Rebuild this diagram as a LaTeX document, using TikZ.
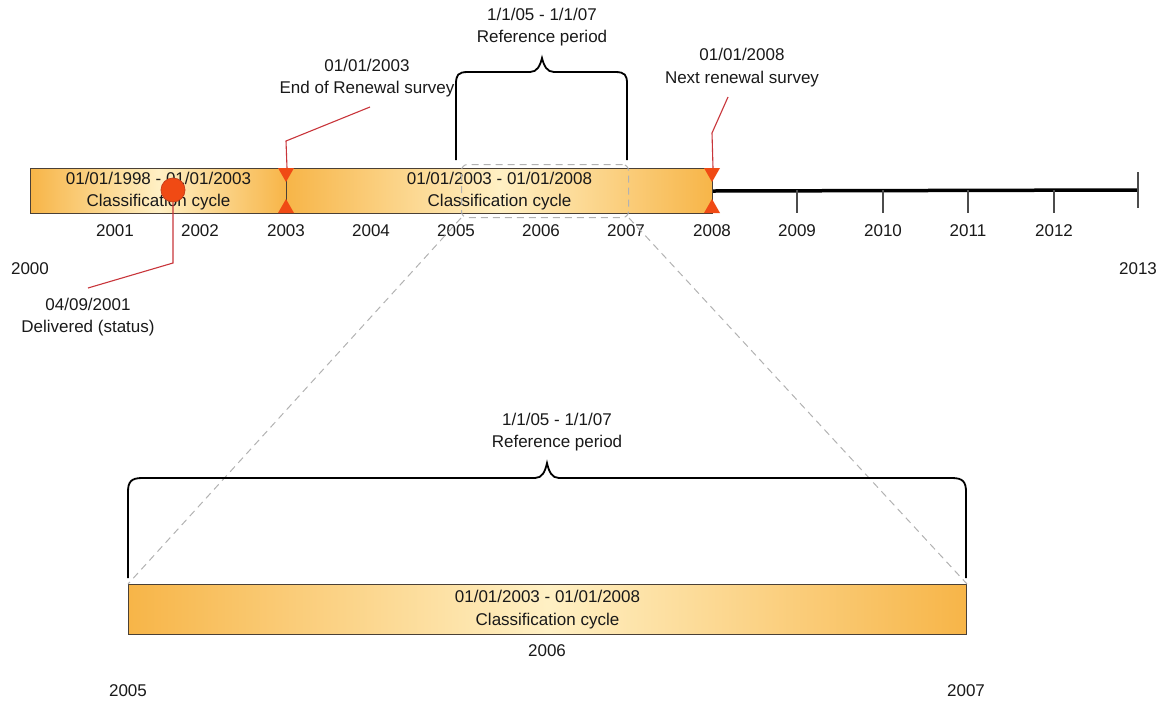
\documentclass[tikz,border=0pt]{standalone}
\usepackage{fontspec}
\setmainfont{Liberation Sans}
\usetikzlibrary{calc}
\definecolor{barOrange}{HTML}{F7B548}
\definecolor{barLight}{HTML}{FFF0C4}
\definecolor{barEdge}{HTML}{4A4036}
\definecolor{mark}{HTML}{F04A14}
\definecolor{callred}{HTML}{C8353A}
\definecolor{dotedge}{HTML}{C9401C}
\begin{document}
\begin{tikzpicture}[x=1pt,y=-1pt,
  every node/.style={font=\fontsize{17}{22.5}\selectfont, inner sep=0pt, text=black!90},
  bar/.style={draw=barEdge, line width=1pt, left color=barOrange, right color=barOrange, middle color=barLight, align=center},
  lbl/.style={align=center},
  callout/.style={draw=callred, line width=1.1pt},
  marker/.style={fill=mark},
  axisline/.style={draw=black, line width=3.5pt},
  tickline/.style={draw=black!70, line width=1.4pt},
  bracestyle/.style={draw=black, line width=1.8pt},
  zoomline/.style={draw=black!30, line width=1pt, dash pattern=on 7pt off 5pt}
]
\useasboundingbox (0,0) rectangle (1166,702);

% top bars
\node[bar, minimum width=256pt, minimum height=45pt, anchor=north west] (cyc1) at (30,168) {01/01/1998 - 01/01/2003\\Classification cycle};
\node[bar, minimum width=426pt, minimum height=45pt, anchor=north west] (cyc2) at (286,168) {01/01/2003 - 01/01/2008\\Classification cycle};

% axis beyond 2008
\coordinate (end2013) at (1138,190);
\draw[axisline] (cyc2.east) -- (end2013);
\foreach \x in {797,883,968,1054} \draw[tickline] (\x,190) -- (\x,213);
\draw[tickline] (1138,172) -- (1138,208);

% year labels
\foreach \yy/\x in {2001/115,2002/200,2003/286,2004/371,2005/456,2006/541,2007/626,2008/712,2009/797,2010/883,2011/968,2012/1054}
  \node (y\yy) at (\x,231) {\yy};
\node (y2000) at (30,269) {2000};
\node (y2013) at (1138,269) {2013};

% dashed zoom rectangle
\node[draw=black!30, line width=1pt, dash pattern=on 7pt off 5pt, rounded corners=6pt, minimum width=167pt, minimum height=53pt, anchor=north west] (zoomrect) at (461,164) {};

% markers at 2003 and 2008
\foreach \x in {286,712} {
  \fill[marker] (\x-8,168) -- (\x+8,168) -- (\x,182) -- cycle;
  \fill[marker] (\x-8,213) -- (\x+8,213) -- (\x,199) -- cycle;
}

% delivered dot
\node[circle, fill=mark, draw=dotedge, line width=0.8pt, minimum size=24pt] (dot) at (173,190) {};
\node[lbl] (ldel) at (88,317) {04/09/2001\\Delivered (status)};
\coordinate (cdel) at (88,288);
\draw[callout] (dot.south) -- (173,263) -- (cdel);

% 2003 callout
\node[lbl] (l2003) at (367,78) {01/01/2003\\End of Renewal survey};
\coordinate (c2003) at (370,107);
\draw[callout] (cyc1.north east) -- (286,141) -- (c2003);

% 2008 callout
\node[lbl] (l2008) at (742,67.5) {01/01/2008\\Next renewal survey};
\coordinate (c2008) at (728,97);
\draw[callout] (cyc2.north east) -- (712,133) -- (c2008);

% top brace
\node[lbl] (ref1) at (542,27) {1/1/05 - 1/1/07\\Reference period};
\draw[bracestyle] (456,160) -- (456,84) .. controls (456,75) and (458,72) .. (468,72)
  -- (530,72) .. controls (537,72) and (540,66) .. (542,58)
  .. controls (544,66) and (547,72) .. (554,72) -- (615,72)
  .. controls (625,72) and (627,75) .. (627,84) -- (627,160);

% bottom bar
\node[bar, minimum width=838pt, minimum height=50pt, anchor=north west] (cyc3) at (128,584) {01/01/2003 - 01/01/2008\\Classification cycle};
\node (b2006) at (547,651) {2006};
\node (b2005) at (128,691) {2005};
\node (b2007) at (966,691) {2007};

% zoom lines
\draw[zoomline] (zoomrect.south west) -- (cyc3.north west);
\draw[zoomline] (zoomrect.south east) -- (cyc3.north east);

% bottom brace
\node[lbl] (ref2) at (557,432) {1/1/05 - 1/1/07\\Reference period};
\draw[bracestyle] (128,578) -- (128,492) .. controls (128,482) and (131,478) .. (142,478)
  -- (535,478) .. controls (542,478) and (545,472) .. (547,463)
  .. controls (549,472) and (552,478) .. (559,478) -- (952,478)
  .. controls (963,478) and (966,482) .. (966,492) -- (966,578);
\end{tikzpicture}
\end{document}
